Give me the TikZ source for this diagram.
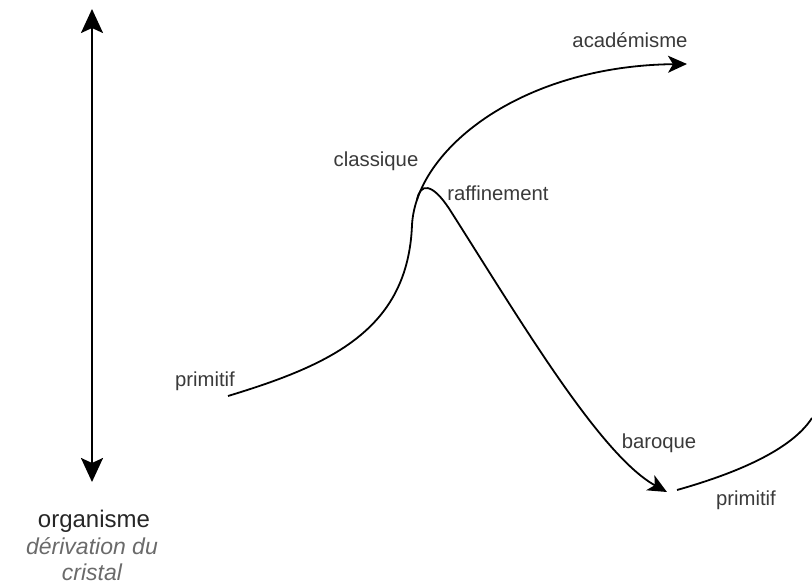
\documentclass[tikz,border=0pt]{standalone}
\usepackage{fontspec}
\setmainfont{Liberation Sans}
\usetikzlibrary{arrows.meta}
\definecolor{labelgray}{HTML}{3A3A3A}
\definecolor{softgray}{HTML}{6A6A6A}
\begin{document}
\begin{tikzpicture}[x=1pt,y=-1pt,
  lbl/.style={text=labelgray,font=\fontsize{20.3}{22}\selectfont,inner sep=0pt},
  curveline/.style={line width=1.8pt,black},
  smalltip/.style={-{Stealth[length=19pt,width=17pt,inset=5pt]}}]
\useasboundingbox (0,0) rectangle (812,584);
% vertical axis
\coordinate (atop) at (92,9);
\coordinate (abot) at (92,482);
\draw[line width=2.4pt,{Stealth[length=24pt,width=22pt,inset=5pt]}-{Stealth[length=24pt,width=22pt,inset=5pt]}] (atop) -- (abot);
\node[inner sep=0pt,text=black!85,font=\fontsize{24}{26}\selectfont] (org) at (94,521) {organisme};
\node[inner sep=0pt,text=softgray,font=\fontsize{23}{25}\selectfont\itshape] (der) at (92,546) {dérivation du};
\node[inner sep=0pt,text=softgray,font=\fontsize{23}{25}\selectfont\itshape] (cri) at (92,572) {cristal};
% curve coordinates
\coordinate (prim1) at (228,396);
\coordinate (mid1) at (412,225);
\coordinate (acad) at (687,64);
\coordinate (raf0) at (417,200);
\coordinate (raf1) at (450,210);
\coordinate (bar) at (667,492);
\coordinate (prim2) at (677,490);
\coordinate (edge) at (812,418);
% curves
\draw[curveline,smalltip] (prim1) .. controls (330,365) and (408,330) .. (mid1)
   .. controls (416,150) and (520,66) .. (acad);
\draw[curveline,smalltip] (raf0) .. controls (420,183) and (432,182) .. (raf1)
   .. controls (520,320) and (600,455) .. (bar);
\draw[curveline] (prim2) .. controls (730,475) and (790,452) .. (edge);
% labels
\node[lbl] (lacad) at (630,40) {académisme};
\node[lbl] (lclass) at (376,161) {classique};
\node[lbl] (lraf) at (498,193) {raffinement};
\node[lbl] (lprim1) at (205,381) {primitif};
\node[lbl] (lbar) at (659,443) {baroque};
\node[lbl] (lprim2) at (746,500) {primitif};
\end{tikzpicture}
\end{document}
